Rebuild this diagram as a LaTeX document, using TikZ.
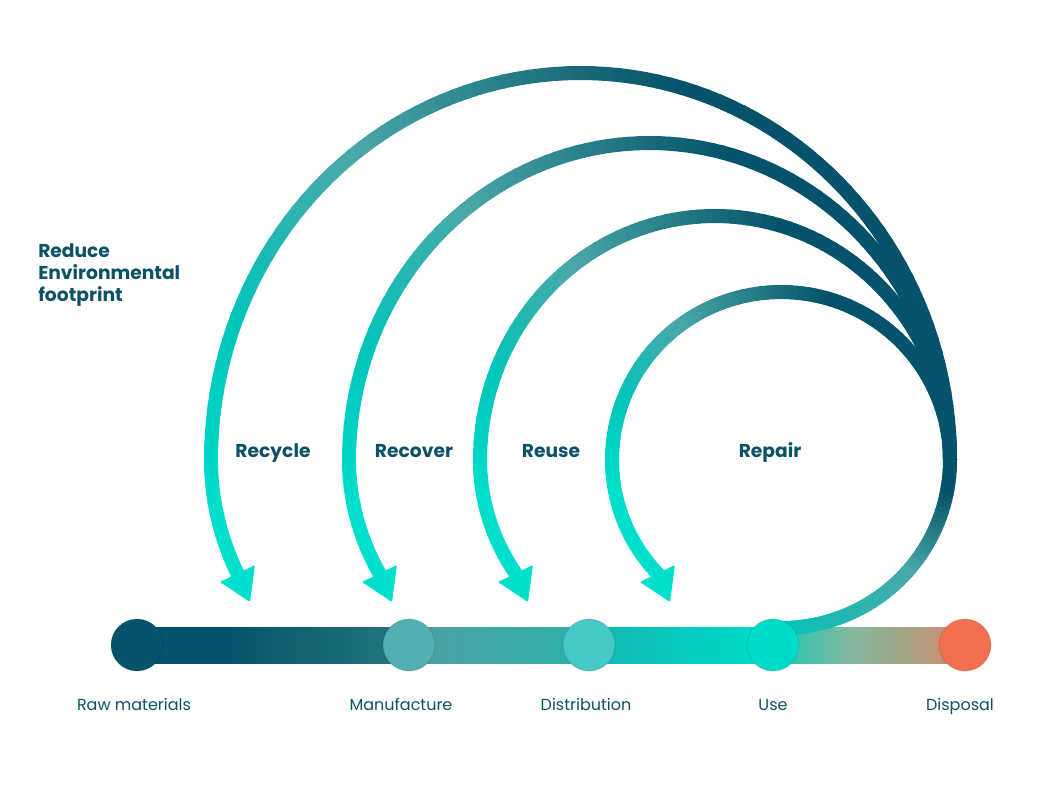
\documentclass[tikz,border=0pt]{standalone}
\usepackage{fontspec}
\setmainfont{Poppins}
\usetikzlibrary{positioning}
\definecolor{darkT}{HTML}{05536A}
\definecolor{midT}{HTML}{4AA8A8}
\definecolor{cyanA}{HTML}{00C5BB}
\definecolor{cyanB}{HTML}{00DFCC}
\definecolor{textT}{HTML}{0B5266}
\definecolor{manuC}{HTML}{54AFB1}
\definecolor{distC}{HTML}{47C9C8}
\definecolor{useC}{HTML}{00DBC9}
\definecolor{dispC}{HTML}{F2704F}
\definecolor{barB}{HTML}{21737E}
\definecolor{barC}{HTML}{4AA0A3}
\definecolor{barD}{HTML}{30AEA9}
\definecolor{barE}{HTML}{10BAB2}
\definecolor{barF}{HTML}{00DAC8}
\definecolor{barG}{HTML}{3DC3AE}
\definecolor{barH}{HTML}{86B89E}
\definecolor{barI}{HTML}{9FA585}
\definecolor{barJ}{HTML}{C39477}

% bar from x=137 (25bp) to x=965 (75bp)
\pgfdeclarehorizontalshading{barshade}{100bp}{color(0bp)=(darkT); color(25bp)=(darkT);
  color(30.6bp)=(darkT); color(40bp)=(barB); color(42.9bp)=(barC); color(50.9bp)=(barD);
  color(53.7bp)=(barE); color(62bp)=(barF); color(64.9bp)=(barG); color(68.2bp)=(barH);
  color(71.1bp)=(barI); color(73.5bp)=(barJ); color(75bp)=(dispC); color(100bp)=(dispC)}

% colour of the loop stroke at angle #1
\newcommand\arccolor[1]{%
  \pgfmathsetmacro\ca{#1}%
  \ifdim\ca pt<-40pt
    \pgfmathsetmacro\cp{(\ca+90)*2}\colorlet{arcc}{midT!\cp!cyanA}%
  \else\ifdim\ca pt<-10pt
    \pgfmathsetmacro\cp{(\ca+40)*(100/30)}\colorlet{arcc}{darkT!\cp!midT}%
  \else\ifdim\ca pt<75pt
    \colorlet{arcc}{darkT}%
  \else\ifdim\ca pt<128pt
    \pgfmathsetmacro\cp{(\ca-75)*(100/53)}\colorlet{arcc}{midT!\cp!darkT}%
  \else\ifdim\ca pt<160pt
    \pgfmathsetmacro\cp{(\ca-128)*(100/32)}\colorlet{arcc}{cyanA!\cp!midT}%
  \else
    \pgfmathsetmacro\cp{min(100,(\ca-160)*(100/30))}\colorlet{arcc}{cyanB!\cp!cyanA}%
  \fi\fi\fi\fi\fi}

% cx, rx, ry above, ry below, start angle, end angle
\newcommand\ringarc[6]{%
  \pgfmathtruncatemacro\nseg{(#6-#5)/2}
  \pgfmathsetmacro\dt{(#6-#5)/\nseg}
  \foreach \i in {1,...,\nseg}{
    \pgfmathsetmacro\ta{#5+(\i-1)*\dt}
    \pgfmathsetmacro\tb{#5+\i*\dt}
    \pgfmathsetmacro\rya{(\ta>180)*#4+(\ta<=180)*#3}
    \pgfmathsetmacro\ryb{(\tb>180)*#4+(\tb<=180)*#3}
    \arccolor{\ta}
    \draw[loopline, draw=arcc] ({#1+#2*cos(\ta)},{460-\rya*sin(\ta)}) -- ({#1+#2*cos(\tb)},{460-\ryb*sin(\tb)});
  }}

\begin{document}
\begin{tikzpicture}[x=0.75pt, y=-0.75pt,
    loopline/.style = {line width=10.5pt, line cap=round},
    head/.style = {fill=cyanB, rounded corners=1pt},
    dot/.style = {circle, inner sep=0pt, minimum size=39pt, draw=black, draw opacity=0.08, line width=1pt},
    stage/.style = {text=textT, font=\fontsize{12}{14}\selectfont, anchor=base},
    loopname/.style = {text=textT, font=\fontsize{14}{16.7}\selectfont\bfseries, anchor=base}]
\useasboundingbox (0,0) rectangle (1052,790);

% timeline bar
\shade[shading=barshade] (137,627) rectangle (965,663);

% loops
\ringarc{580.5}{369.5}{387}{305.6}{0}{204}
\ringarc{649.5}{300.5}{317}{258.9}{0}{208}
\ringarc{715}{235}{244}{214.7}{0}{214}
\ringarc{781}{169}{168}{166.3}{-90}{225}

\coordinate (tipRecycle) at (250,602);
\coordinate (tipRecover) at (392,602);
\coordinate (tipReuse) at (528,602);
\coordinate (tipRepair) at (670,602);
\foreach \t in {tipRecycle,tipRecover,tipReuse,tipRepair}
  \fill[head] (\t) -- ++(-30,-20) -- ++(35,-17) -- cycle;

% stages
\node[dot, fill=darkT] (raw) at (137,645) {};
\node[dot, fill=manuC] (manu) at (409,645) {};
\node[dot, fill=distC] (dist) at (589,645) {};
\node[dot, fill=useC] (use) at (773,645) {};
\node[dot, fill=dispC] (disp) at (965,645) {};

\node[stage] (rawL) at (134,710) {Raw materials};
\node[stage] (manuL) at (401,710) {Manufacture};
\node[stage] (distL) at (586,710) {Distribution};
\node[stage] (useL) at (773,710) {Use};
\node[stage] (dispL) at (960,710) {Disposal};

\node[loopname] (recycle) at (273,457) {Recycle};
\node[loopname] (recover) at (414,457) {Recover};
\node[loopname] (reuse) at (551,457) {Reuse};
\node[loopname] (repair) at (770,457) {Repair};

\node[loopname, anchor=west, align=left, inner sep=0pt] (reduce) at (38,275) {Reduce\\Environmental\\footprint};
\end{tikzpicture}
\end{document}
